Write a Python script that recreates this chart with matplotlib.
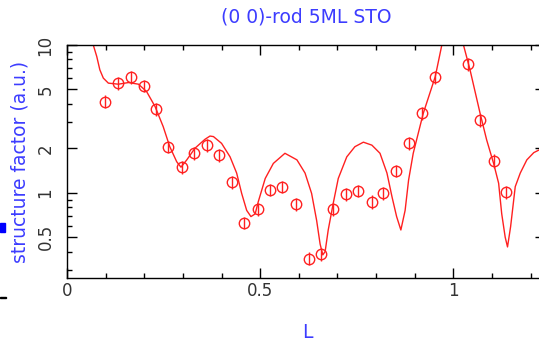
import matplotlib.pyplot as plt
from matplotlib.ticker import FixedLocator, NullFormatter
import matplotlib.patches as mpatches

# measured rod (L, structure factor, error)
L_data = [0.098, 0.133, 0.165, 0.198, 0.230, 0.262, 0.297, 0.329, 0.362, 0.394,
          0.426, 0.458, 0.493, 0.525, 0.557, 0.592, 0.625, 0.657, 0.689, 0.722,
          0.754, 0.789, 0.819, 0.851, 0.886, 0.918, 0.953, 1.037, 1.069, 1.104, 1.137]
F_data = [4.14, 5.52, 6.06, 5.31, 3.69, 2.05, 1.50, 1.85, 2.11, 1.80,
          1.18, 0.626, 0.771, 1.05, 1.10, 0.838, 0.359, 0.384, 0.771, 0.98,
          1.03, 0.869, 0.99, 1.41, 2.18, 3.45, 6.06, 7.46, 3.11, 1.65, 1.01]
F_err = [0.42, 0.55, 0.6, 0.53, 0.37, 0.2, 0.15, 0.18, 0.21, 0.18,
         0.12, 0.06, 0.08, 0.1, 0.11, 0.08, 0.036, 0.038, 0.08, 0.1,
         0.1, 0.09, 0.1, 0.14, 0.22, 0.35, 0.6, 0.75, 0.31, 0.17, 0.1]

# model curve
L_fit = [0.050, 0.068, 0.077, 0.085, 0.094, 0.107, 0.133, 0.159, 0.185, 0.206,
         0.228, 0.249, 0.266, 0.284, 0.295, 0.310, 0.331, 0.357, 0.370, 0.379,
         0.400, 0.422, 0.439, 0.452, 0.465, 0.476, 0.487, 0.495, 0.513, 0.534,
         0.564, 0.595, 0.616, 0.633, 0.646, 0.655, 0.662, 0.668, 0.676, 0.689,
         0.702, 0.724, 0.745, 0.767, 0.789, 0.810, 0.828, 0.841, 0.853, 0.864,
         0.875, 0.884, 0.896, 0.914, 0.922, 0.953, 0.970, 0.985, 1.000, 1.013,
         1.026, 1.043, 1.069, 1.086, 1.104, 1.117, 1.125, 1.134, 1.140, 1.148,
         1.160, 1.173, 1.190, 1.208, 1.222, 1.237]
F_fit = [15.0, 10.0, 8.36, 6.79, 5.97, 5.52, 5.43, 5.57, 5.43, 4.84,
         3.83, 2.80, 2.05, 1.62, 1.49, 1.67, 2.00, 2.30, 2.42, 2.40,
         2.16, 1.75, 1.36, 0.99, 0.76, 0.69, 0.72, 0.87, 1.25, 1.58,
         1.85, 1.67, 1.36, 0.99, 0.65, 0.45, 0.38, 0.40, 0.56, 0.85,
         1.25, 1.75, 2.05, 2.20, 2.10, 1.85, 1.36, 0.94, 0.69, 0.56,
         0.76, 1.22, 1.85, 2.85, 3.45, 6.11, 10.0, 20.0, 40.0, 20.0,
         10.0, 6.79, 3.45, 2.28, 1.58, 1.16, 0.72, 0.50, 0.43, 0.59,
         1.10, 1.36, 1.67, 1.87, 1.95, 2.0]

blue = '#3c3cff'
red = '#ff2020'

fig = plt.figure(figsize=(5.39, 3.41), dpi=100)
ax = fig.add_axes([67/539, 63/341, 478/539, 233/341])

ax.plot(L_fit, F_fit, color=red, lw=1.0)
ax.errorbar(L_data, F_data, yerr=F_err, fmt='o', ms=7.5, mfc='none', mec=red,
            mew=1.0, ecolor=red, elinewidth=1.0, capsize=0)

ax.set_yscale('log')
ax.set_xlim(0, 1.237)
ax.set_ylim(0.265, 10)

ax.xaxis.set_major_locator(FixedLocator([0, 0.5, 1.0]))
ax.xaxis.set_minor_locator(FixedLocator([0.1, 0.2, 0.3, 0.4, 0.6, 0.7, 0.8, 0.9, 1.1, 1.2]))
ax.set_xticklabels(['0', '0.5', '1'])
ax.yaxis.set_major_locator(FixedLocator([0.5, 1, 2, 5, 10]))
ax.yaxis.set_minor_locator(FixedLocator([0.3, 0.4, 0.6, 0.7, 0.8, 0.9, 3, 4, 6, 7, 8, 9]))
ax.yaxis.set_minor_formatter(NullFormatter())
ax.set_yticklabels(['0.5', '1', '2', '5', '10'])

ax.tick_params(which='both', direction='in', top=True, right=True, width=1.0,
               labelsize=12, labelcolor='#333333')
ax.tick_params(which='major', length=7.2)
ax.tick_params(which='minor', length=3.6)
ax.tick_params(axis='x', pad=3)
ax.tick_params(axis='y', pad=9)
for lab in ax.get_yticklabels():
    lab.set_rotation(90)
    lab.set_va('center')
for s in ax.spines.values():
    s.set_linewidth(1.0)

fig.text(306/539, 1 - 17/341, '(0 0)-rod 5ML STO', color=blue, fontsize=13.5,
         ha='center', va='center')
fig.text(20/539, 1 - 162/341, 'structure factor (a.u.)', color=blue, fontsize=13.5,
         rotation=90, ha='center', va='center')
fig.text(307/539, 1 - 333/341, 'L', color=blue, fontsize=13.5, ha='center', va='center')

# small marks at the left edge
fig.add_artist(mpatches.Rectangle((0, 1 - 232/341), 5/539, 9/341, color='#0000ff',
                                  transform=fig.transFigure))
fig.add_artist(mpatches.Rectangle((0, 1 - 298/341), 6/539, 1.5/341, color='black',
                                  transform=fig.transFigure))

fig.savefig('out.png', dpi=100)
